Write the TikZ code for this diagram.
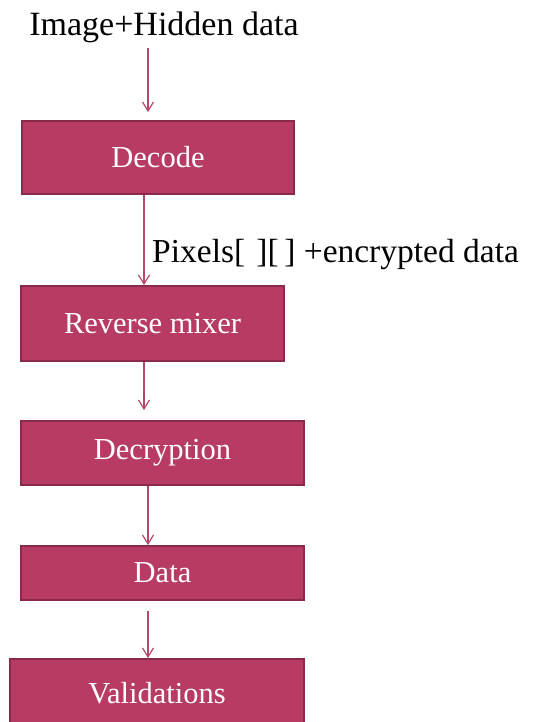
\documentclass[tikz,border=0pt]{standalone}
\usepackage{fontspec}
\setmainfont{Liberation Serif}
\usetikzlibrary{arrows.meta}
\definecolor{boxfill}{HTML}{B83B64}
\definecolor{boxedge}{HTML}{8A2A4A}
\definecolor{arrcol}{HTML}{B5466C}
\tikzset{
  stepbox/.style={draw=boxedge, line width=1.8pt, fill=boxfill, text=white, inner sep=0pt, font=\fontsize{30.5}{34}\selectfont},
  arr/.style={draw=arrcol, line width=1.2pt, -{Straight Barb[length=9pt,width=11pt,line width=1.2pt]}},
  plain/.style={inner sep=0pt, font=\fontsize{34}{38}\selectfont}
}
\begin{document}
\begin{tikzpicture}[x=1pt,y=-1pt]
\useasboundingbox[fill=white] (0,0) rectangle (541,722);
\node[plain, anchor=base] (title) at (164,36) {Image+Hidden data};
\node[stepbox, minimum width=272pt, minimum height=73pt] (dec) at (158,157.5) {Decode};
\node[stepbox, minimum width=263pt, minimum height=75pt] (rev) at (152.5,323.5) {Reverse mixer};
\node[stepbox, minimum width=283pt, minimum height=64pt] (dcr) at (162.5,453) {Decryption};
\node[stepbox, minimum width=283pt, minimum height=54pt] (dat) at (162.5,573) {Data};
\node[stepbox, minimum width=294pt, minimum height=68pt] (val) at (157,693) {Validations};
\node[plain, anchor=base west, font=\fontsize{33.5}{38}\selectfont] (lbl) at (152,262) {Pixels[\,\,][\,] +encrypted data};
\draw[arr, shorten <=4pt, shorten >=8pt] (title.south -| 148,0) -- (dec.north -| 148,0);
\draw[arr] (dec.south -| 144,0) -- (rev.north -| 144,0);
\draw[arr, shorten >=10pt] (rev.south -| 144,0) -- (dcr.north -| 144,0);
\draw[arr] (dcr.south -| 148,0) -- (dat.north -| 148,0);
\draw[arr, shorten <=10pt] (dat.south -| 148,0) -- (val.north -| 148,0);
\end{tikzpicture}
\end{document}
